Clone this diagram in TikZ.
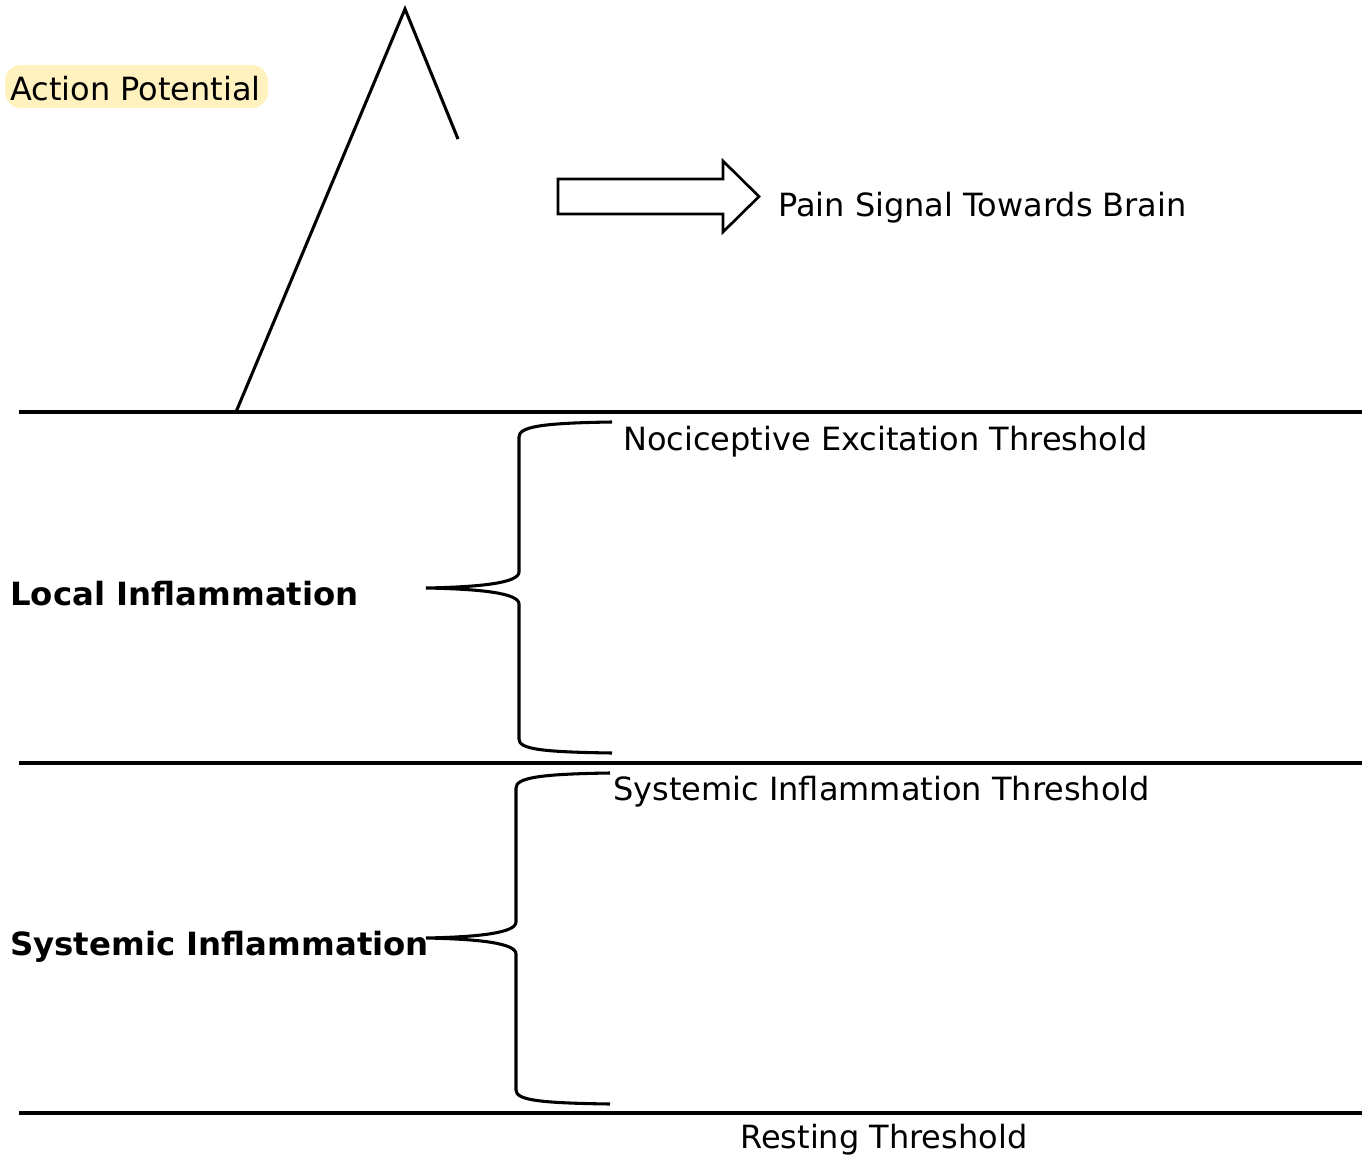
\documentclass[tikz,border=0pt]{standalone}
\usepackage{fontspec}
\setmainfont{DejaVu Sans}
\usetikzlibrary{shapes.arrows}
\definecolor{hl}{HTML}{FFF2BF}
\begin{document}
\begin{tikzpicture}[x=0.75pt,y=-0.75pt,
  thick line/.style={line width=2.3pt},
  lbl/.style={inner sep=0pt,anchor=base west,font=\fontsize{24}{28}\selectfont},
  blbl/.style={lbl,font=\fontsize{24}{28}\selectfont\bfseries\addfontfeature{FakeStretch=1.012}},
  bracestyle/.style={line width=2.3pt}]
\useasboundingbox (0,0) rectangle (1364,1156);
% threshold lines
\coordinate (l1a) at (19,412); \coordinate (l1b) at (1362,412);
\coordinate (l2a) at (19,763); \coordinate (l2b) at (1362,763);
\coordinate (l3a) at (19,1113); \coordinate (l3b) at (1362,1113);
\draw[thick line] (l1a) -- (l1b);
\draw[thick line] (l2a) -- (l2b);
\draw[thick line] (l3a) -- (l3b);
% action potential spike
\coordinate (s0) at (236,412); \coordinate (s1) at (405,9); \coordinate (s2) at (458,139);
\draw[thick line] (s0) -- (s1) -- (s2);
% label with highlight
\fill[hl, rounded corners=12pt] (5,65) rectangle (268,108);
\node[lbl] (ap) at (10,100) {Action Potential};
% block arrow
\draw[line width=2pt,fill=white] (558,179) -- (723,179) -- (723,161) -- (759,196.5) -- (723,232) -- (723,214) -- (558,214) -- cycle;
\coordinate (arrtip) at (759,196.5);
\node[lbl] (pain) at (778,216) {Pain Signal Towards Brain};
% threshold labels
\node[lbl] (noci) at (623,450) {Nociceptive Excitation Threshold};
\node[lbl] (sysT) at (613,800) {Systemic Inflammation Threshold};
\node[lbl] (rest) at (740,1148) {Resting Threshold};
% bold labels
\node[blbl] (local) at (10,605) {Local Inflammation};
\node[blbl] (sys) at (10,955) {Systemic Inflammation};
% braces
\draw[bracestyle] (612,422) .. controls (540,423) and (519,427) .. (519,437) -- (519,572)
  .. controls (519,583) and (480,587) .. (426,588)
  .. controls (480,589) and (519,593) .. (519,604) -- (519,739)
  .. controls (519,749) and (540,752) .. (612,753);
\draw[bracestyle] (610,773) .. controls (538,774) and (516,778) .. (516,788) -- (516,922)
  .. controls (516,933) and (478,937) .. (426,938)
  .. controls (478,939) and (516,943) .. (516,954) -- (516,1090)
  .. controls (516,1100) and (538,1103) .. (610,1104);
\end{tikzpicture}
\end{document}
